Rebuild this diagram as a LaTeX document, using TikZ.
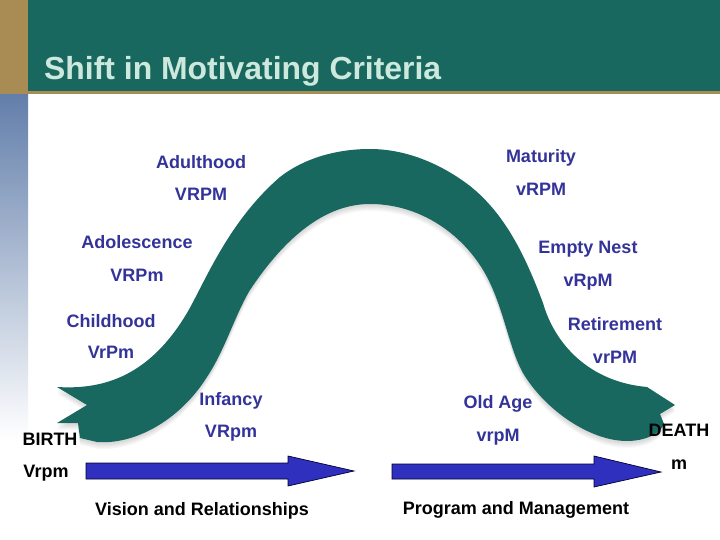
\documentclass[tikz,border=0pt]{standalone}
\usepackage{fontspec}
\setmainfont{Liberation Sans}
\definecolor{bandgreen}{RGB}{25, 104, 96}
\definecolor{edgegold}{RGB}{168, 140, 84}
\definecolor{sideblue}{RGB}{98, 126, 170}
\definecolor{titlemint}{RGB}{205, 232, 220}
\definecolor{stageblue}{RGB}{51, 51, 153}
\definecolor{arrowblue}{RGB}{48, 48, 190}
\tikzset{
  stagelabel/.style={font=\fontsize{18}{20}\selectfont\bfseries, text=stageblue, inner sep=0pt, anchor=base},
  endlabel/.style={font=\fontsize{18}{20}\selectfont\bfseries, text=black, inner sep=0pt, anchor=base},
  timearrow/.style={draw=black!80!blue, line width=0.7pt, fill=arrowblue}
}
\newcommand{\lifecurve}{
  (57,387) .. controls (105,390) and (150,375) .. (187,313)
  .. controls (205,282) and (228,222) .. (280,177)
  .. controls (303,159) and (335,149) .. (370,149)
  .. controls (405,149) and (440,163) .. (470,186)
  .. controls (505,214) and (525,255) .. (543,303)
  .. controls (555,345) and (590,382) .. (647,387)
  -- (675,405) -- (660,414) -- (664,424)
  .. controls (660,434) and (645,441) .. (627,441)
  .. controls (590,441) and (545,410) .. (523,373)
  .. controls (510,350) and (505,315) .. (490,283)
  .. controls (470,240) and (425,204) .. (370,204)
  .. controls (320,204) and (280,245) .. (250,290)
  .. controls (235,315) and (225,350) .. (207,377)
  .. controls (180,420) and (135,445) .. (97,442)
  -- (80,438) -- (78,423) -- (57,423) -- (87,405) -- cycle
}
\begin{document}
\begin{tikzpicture}[x=1pt, y=-1pt]
  \useasboundingbox (0,0) rectangle (720,540);

  % Header
  \fill[white] (0,0) rectangle (720,540);
  \fill[top color=sideblue, bottom color=white] (0,94) rectangle (28,440);
  \fill[edgegold] (0,0) rectangle (28,94);
  \fill[bandgreen] (28,0) rectangle (720,91);
  \fill[edgegold] (28,91) rectangle (720,94);
  \node[font=\fontsize{31.9}{36}\selectfont\bfseries, text=titlemint, anchor=base west, inner sep=0pt] (title) at (44,80) {Shift in Motivating Criteria};

  % Curve
  \foreach \d in {2,...,7} {
    \fill[black, opacity=0.025, yshift=-\d pt] \lifecurve;
  }
  \fill[bandgreen] \lifecurve;

  % Stages
  \node[stagelabel] (adulthood) at (201,169) {Adulthood};
  \node[stagelabel] (vrpmA) at (201,201) {VRPM};
  \node[stagelabel] (maturity) at (541,163) {Maturity};
  \node[stagelabel] (vrpmB) at (541,196) {vRPM};
  \node[stagelabel] (adolescence) at (137,248) {Adolescence};
  \node[stagelabel] (vrpmC) at (137,281) {VRPm};
  \node[stagelabel] (emptynest) at (588,253) {Empty Nest};
  \node[stagelabel] (vrpmD) at (588,286) {vRpM};
  \node[stagelabel] (childhood) at (111,327) {Childhood};
  \node[stagelabel] (vrpmE) at (111,358) {VrPm};
  \node[stagelabel] (retirement) at (615,330) {Retirement};
  \node[stagelabel] (vrpmF) at (615,363) {vrPM};
  \node[stagelabel] (infancy) at (231,405) {Infancy};
  \node[stagelabel] (vrpmG) at (231,437) {VRpm};
  \node[stagelabel] (oldage) at (498,408) {Old Age};
  \node[stagelabel] (vrpmH) at (498,441) {vrpM};

  % Ends
  \node[endlabel] (birth) at (50,445) {BIRTH};
  \node[endlabel] (vrpmI) at (46,477) {Vrpm};
  \node[endlabel] (death) at (679,436) {DEATH};
  \node[endlabel] (small) at (679,469) {m};

  % Arrows
  \draw[timearrow] (86,463) -- (288,463) -- (288,456) -- (354,471) -- (288,486) -- (288,479) -- (86,479) -- cycle;
  \draw[timearrow] (392,464) -- (594,464) -- (594,456) -- (661,472) -- (594,487) -- (594,479) -- (392,479) -- cycle;
  \node[endlabel] (vision) at (202,515) {Vision and Relationships};
  \node[endlabel] (program) at (516,514) {Program and Management};
\end{tikzpicture}
\end{document}
